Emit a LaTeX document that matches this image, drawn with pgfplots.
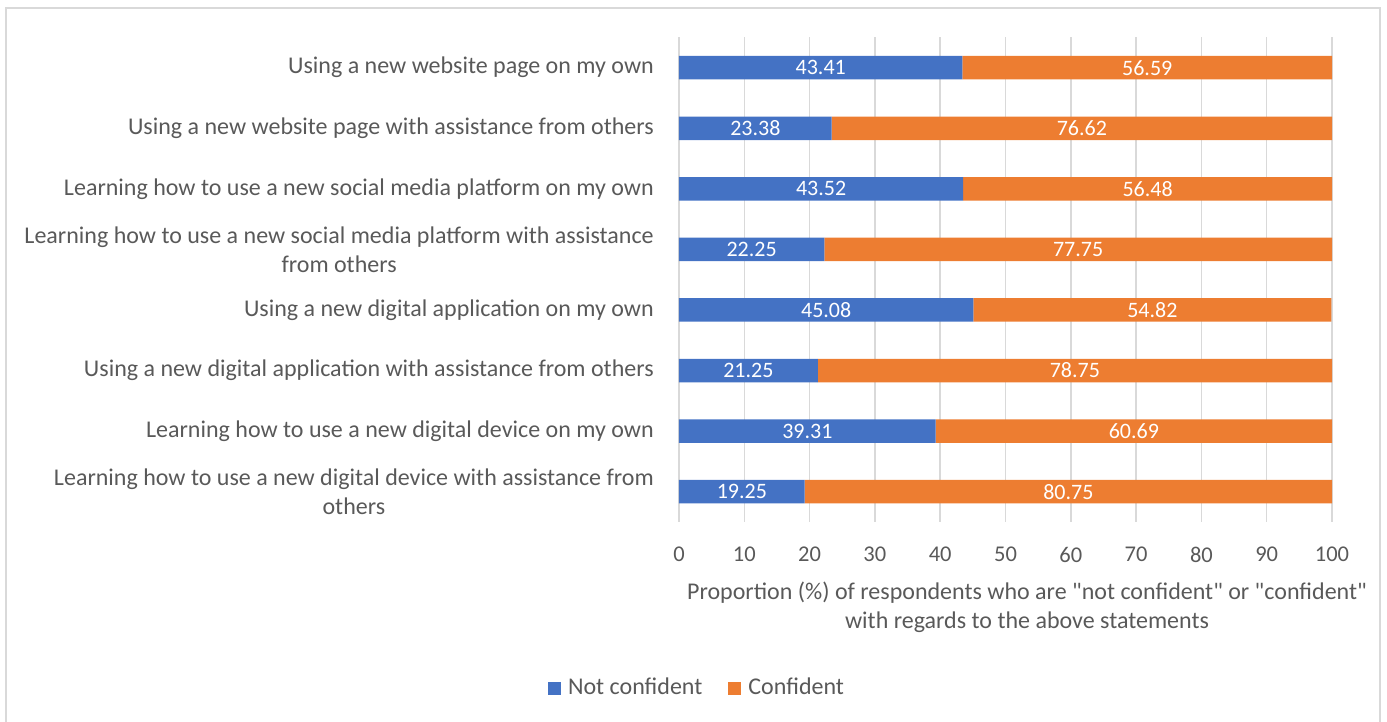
\documentclass[border=0pt]{standalone}
\usepackage{pgfplots}
\pgfplotsset{compat=1.18}
\usepackage{fontspec}
\setmainfont{Carlito}[Ligatures=TeXOff]
\definecolor{cblue}{HTML}{4472C4}
\definecolor{corange}{HTML}{ED7D31}
\definecolor{ctext}{HTML}{595959}
\definecolor{cgrid}{HTML}{D9D9D9}
\begin{document}
\fontsize{24}{29}\selectfont
\begin{tikzpicture}[x=1pt,y=1pt]
\path[use as bounding box] (0,0) rectangle (1387,722);
\draw[cgrid,line width=1.5pt] (6,-5) -- (6,714) -- (1380,714) -- (1380,-5);
\begin{axis}[
  at={(679pt,200pt)}, anchor=south west,
  scale only axis, width=653pt, height=484.6pt,
  xbar stacked, bar width=23.5pt,
  xmin=0, xmax=100, ymin=-0.5, ymax=7.5,
  xtick={0,10,...,100},
  ytick={0,...,7},
  yticklabels={
    {Learning how to use a new digital device with assistance from\\others},
    {Learning how to use a new digital device on my own},
    {Using a new digital application with assistance from others},
    {Using a new digital application on my own},
    {Learning how to use a new social media platform with assistance\\from others},
    {Learning how to use a new social media platform on my own},
    {Using a new website page with assistance from others},
    {Using a new website page on my own}},
  yticklabel style={align=center, font=\fontsize{24}{29}\selectfont, text=ctext, xshift=-17pt},
  xticklabel style={font=\fontsize{22.5}{27}\selectfont, text=ctext, yshift=-17pt},
  /pgf/number format/assume math mode=true,
  major tick length=0pt,
  axis line style={draw=none},
  xmajorgrids, grid style={cgrid, line width=1.5pt},
  nodes near coords={\pgfmathprintnumber[fixed,fixed zerofill,precision=2]{\pgfplotspointmeta}},
  every node near coord/.append style={anchor=center, text=white, font=\fontsize{22}{27}\selectfont},
  legend columns=2,
  legend style={at={(0.0276,-0.3426)}, anchor=center, draw=none, font=\fontsize{24}{29}\selectfont, text=ctext,
    /tikz/every even column/.append style={column sep=24pt},
    /tikz/every odd column/.append style={column sep=5pt}},
  legend image code/.code={\fill[#1,draw=none] (0pt,-6.5pt) rectangle (13pt,6.5pt);},
]
\addplot[fill=cblue, draw=none] coordinates {
 (19.25,0) (39.31,1) (21.25,2) (45.08,3) (22.25,4) (43.52,5) (23.38,6) (43.41,7)};
\addplot[fill=corange, draw=none] coordinates {
 (80.75,0) (60.69,1) (78.75,2) (54.82,3) (77.75,4) (56.48,5) (76.62,6) (56.59,7)};
\legend{Not confident, Confident}
\end{axis}
\node[align=center, text=ctext, font=\fontsize{24}{29}\selectfont] at (1027,114.5) {Proportion (\%) of respondents who are "not confident" or "confident"\\with regards to the above statements};
\end{tikzpicture}
\end{document}
